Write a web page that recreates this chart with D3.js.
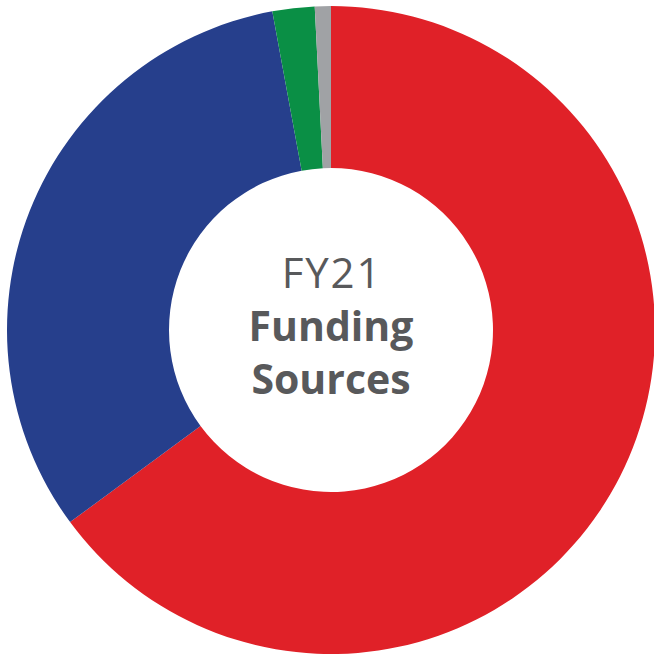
<!DOCTYPE html>
<html>
<head>
<meta charset="utf-8">
<script src="https://cdn.jsdelivr.net/npm/d3@7"></script>
<style>
  html, body { margin: 0; padding: 0; background: #fff; }
  svg { display: block; }
</style>
</head>
<body>
<svg id="chart" width="654" height="655"></svg>
<script>
// FY21 funding sources, share in percent
const sources = ["Source A", "Source B", "Source C", "Source D"];
const shares = [64.9, 32.2, 2.1, 0.8];
const colors = ["#e02128", "#263f8c", "#0a8f45", "#a0a2a5"];
const titleLines = ["FY21", "Funding", "Sources"];

const width = 654, height = 655;
const cx = 331, cy = 330;
const outerR = 324, innerR = 162;

const svg = d3.select("#chart");
const g = svg.append("g").attr("transform", `translate(${cx},${cy})`);

const data = sources.map((s, i) => ({name: s, value: shares[i]}));

const pie = d3.pie()
    .value(d => d.value)
    .sort(null);

const arc = d3.arc()
    .innerRadius(innerR)
    .outerRadius(outerR);

const color = d3.scaleOrdinal()
    .domain(sources)
    .range(colors);

g.selectAll("path.slice")
    .data(pie(data))
    .join("path")
    .attr("class", "slice")
    .attr("d", arc)
    .attr("fill", d => color(d.data.name));

// center label
const label = g.append("text")
    .attr("text-anchor", "middle")
    .style("font-family", "'Open Sans', sans-serif")
    .style("fill", "#58595b");

label.selectAll("tspan")
    .data(titleLines)
    .join("tspan")
    .attr("x", (d, i) => i === 0 ? 1 : 0)
    .attr("y", (d, i) => -42.5 + i * 53.3)
    .style("font-size", (d, i) => i === 0 ? "42px" : "41px")
    .style("letter-spacing", (d, i) => i === 0 ? "1.8px" : "0px")
    .style("font-weight", (d, i) => i === 0 ? 400 : 700)
    .text(d => d);
</script>
</body>
</html>
